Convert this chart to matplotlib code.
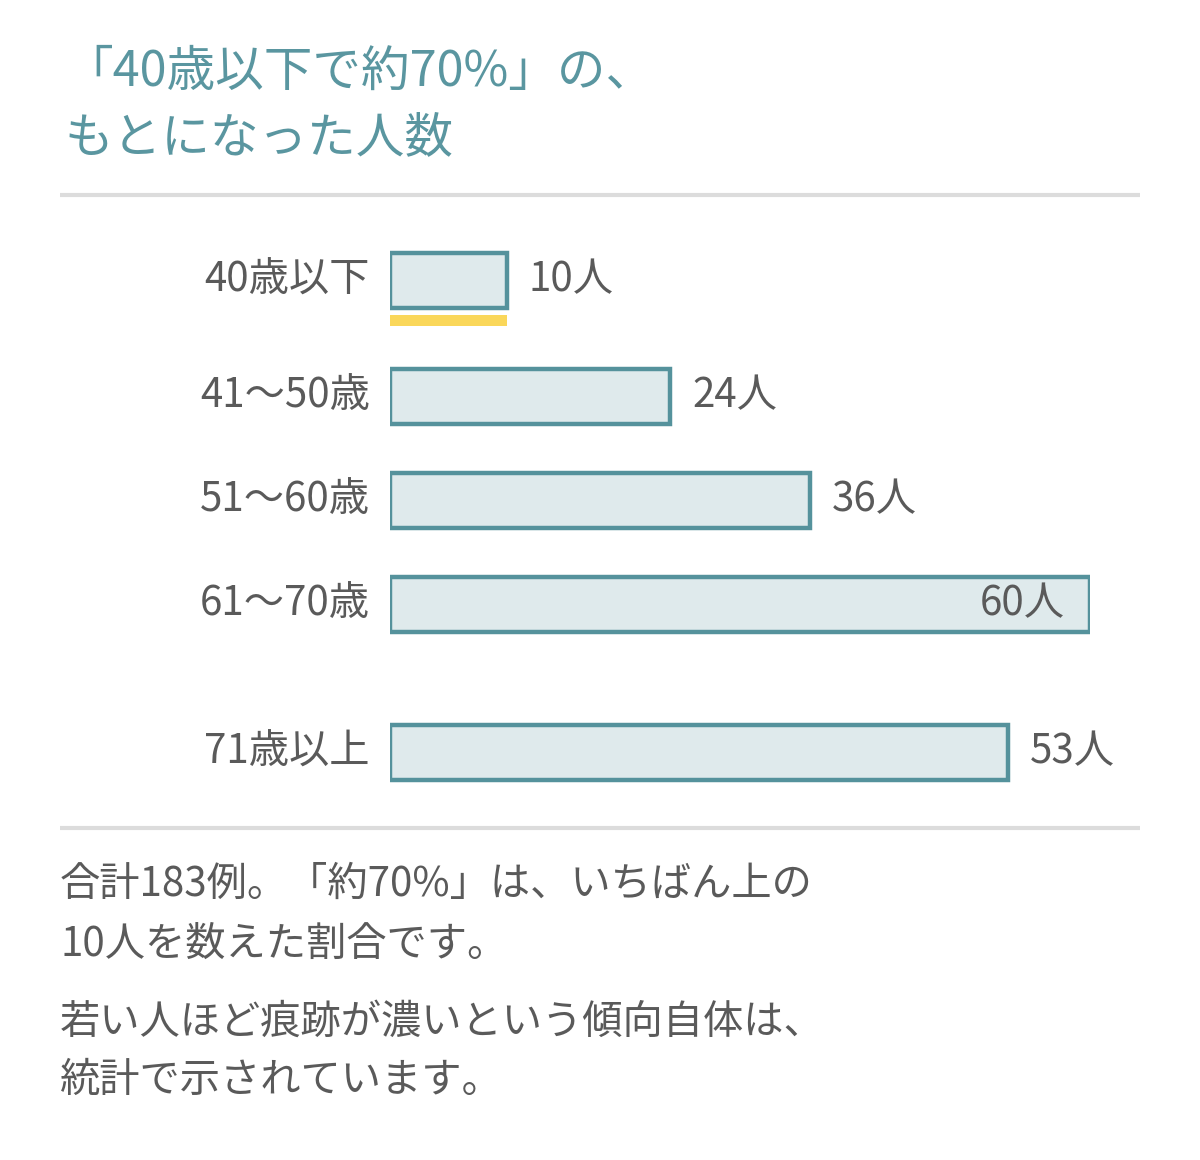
import matplotlib
matplotlib.use("Agg")
import matplotlib.pyplot as plt

plt.rcParams['font.family'] = ['Noto Sans CJK JP', 'DejaVu Sans']

# data
categories = ['40歳以下', '41〜50歳', '51〜60歳', '61〜70歳', '71歳以上']
counts = [10, 24, 36, 60, 53]
value_labels = [f'{c}人' for c in counts]
title_lines = ['「40歳以下で約70%」の、', 'もとになった人数']
note_lines = ['合計183例。「約70%」は、いちばん上の', '10人を数えた割合です。',
              '若い人ほど痕跡が濃いという傾向自体は、', '統計で示されています。']

# layout (pixel rows of the 1200x1160 canvas)
W, H = 1200, 1160
row_y = [280, 396, 500, 604, 752]
bar_h = 55
teal = '#5a96a0'
edge = '#55929c'
fill = '#dfeaec'
gray = '#5a5a5a'
rule = '#dcdcdc'
yellow = '#fad75a'

fig = plt.figure(figsize=(12, 11.6), dpi=100)

# background axes in pixel coordinates for text and rules
bg = fig.add_axes([0, 0, 1, 1])
bg.set_xlim(0, W)
bg.set_ylim(H, 0)
bg.axis('off')

for i, line in enumerate(title_lines):
    bg.text(64, 72 + i * 66, line, fontsize=35, color=teal, va='center', ha='left')

bg.plot([60, 1140], [195, 195], color=rule, lw=3, solid_capstyle='butt')
bg.plot([60, 1140], [828, 828], color=rule, lw=3, solid_capstyle='butt')

note_y = [884, 944, 1022, 1080]
for y, line in zip(note_y, note_lines):
    bg.text(60, y, line, fontsize=29, color=gray, va='center', ha='left')

# bar axes: x 0..60 maps to 390..1090 px
x0, x1 = 390, 1090
y_top, y_bot = 220, 810
ax = fig.add_axes([x0 / W, 1 - y_bot / H, (x1 - x0) / W, (y_bot - y_top) / H])
ax.set_xlim(0, 60)
ax.set_ylim(y_bot, y_top)
ax.axis('off')

ax.barh(row_y, counts, height=bar_h, color=fill, edgecolor=edge, linewidth=3.2)

px_per_unit = (x1 - x0) / 60
for y, c, cat, lab in zip(row_y, counts, categories, value_labels):
    ax.text(-20 / px_per_unit, y, cat, fontsize=29, color=gray, ha='right', va='center')
    if c >= 55:
        ax.text(c - 25 / px_per_unit, y, lab, fontsize=29, color=gray, ha='right', va='center')
    else:
        ax.text(c + 22 / px_per_unit, y, lab, fontsize=29, color=gray, ha='left', va='center')

# yellow highlight under the first bar
ax.barh(row_y[0] + 40, counts[0], height=11, color=yellow, linewidth=0)

fig.savefig('out.png', dpi=100, facecolor='white')
